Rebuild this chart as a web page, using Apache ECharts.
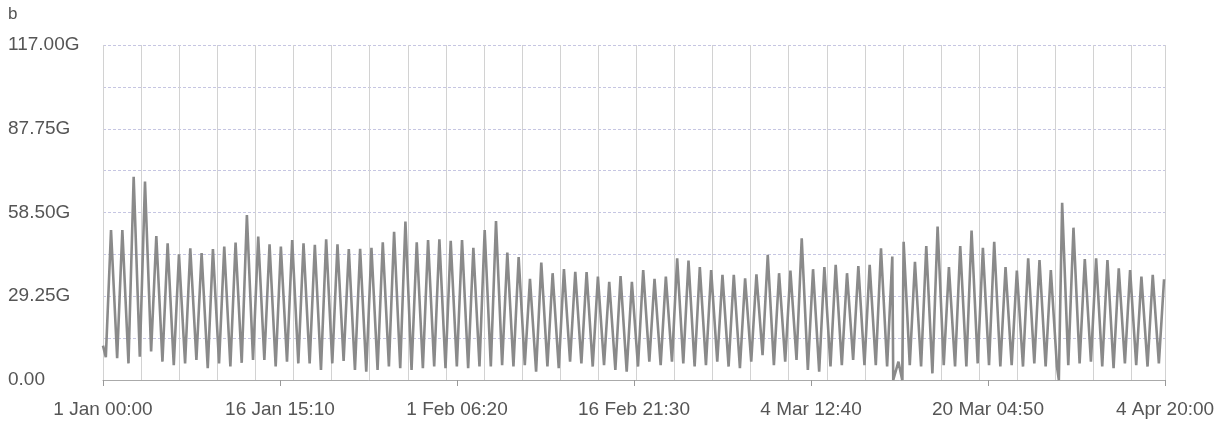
<!DOCTYPE html>
<html>
<head>
<meta charset="utf-8">
<script src="https://cdn.jsdelivr.net/npm/echarts@6/dist/echarts.min.js"></script>
<style>
html,body{margin:0;padding:0;background:#fff;}
#c{width:1228px;height:425px;}
</style>
</head>
<body>
<div id="c"></div>
<script>
// Daily peak values (G), one per day starting 1 Jan
const peaks = [52.4,52.4,71.0,69.3,50.3,47.7,43.9,46.0,44.3,45.7,
  46.6,48.0,57.6,50.1,47.4,46.6,48.9,47.7,47.2,49.1,
  47.4,45.7,45.8,46.2,48.1,51.8,55.3,48.1,48.9,49.1,
  48.6,48.9,46.2,52.4,55.5,44.5,42.9,35.3,41.0,37.3,
  38.7,37.8,37.7,36.1,34.3,36.3,34.3,38.4,35.3,36.1,
  42.5,41.7,39.4,38.4,36.7,36.7,35.5,36.9,43.7,37.3,
  38.2,49.5,38.7,39.4,40.2,37.3,39.8,40.2,46.0,43.1,
  48.3,41.3,46.8,53.6,39.4,46.8,52.2,46.2,48.3,39.4,
  38.2,42.5,41.9,38.4,61.9,53.2,42.2,42.5,41.9,39.0,
  38.4,36.1,36.7,35.2];
// Daily trough values (G), one per day
const troughs = [8.0,7.6,5.8,8.1,10.0,6.4,5.2,5.8,7.0,4.1,
  5.8,4.7,6.0,7.0,7.0,4.7,6.4,5.8,5.8,3.5,
  5.8,6.7,3.5,2.9,3.5,4.7,4.1,3.5,4.1,4.7,
  4.1,4.7,4.1,4.7,4.7,5.2,4.7,5.2,2.9,4.7,
  4.1,6.4,5.8,4.7,5.2,3.5,2.9,4.7,6.4,5.2,
  6.4,5.8,4.7,5.2,6.4,4.7,4.1,6.4,8.7,5.2,
  6.4,7.0,3.5,2.9,4.7,5.2,7.0,5.2,5.2,4.7,
  6.4,5.2,4.7,2.3,5.2,4.7,4.7,5.8,5.2,4.7,
  5.2,4.7,5.8,4.7,4.7,5.2,5.8,6.4,4.7,4.1,
  5.8,5.2,4.7,5.8];
// Short drop-outs to zero: [hours since 1 Jan 00:00, value]
const dropouts = [[1675,0],[1694,0],[2026,0]];
const startValue = 12;
const troughHour = 6;
const peakHour = 17;

const xTickLabels = ['1 Jan 00:00','16 Jan 15:10','1 Feb 06:20','16 Feb 21:30','4 Mar 12:40','20 Mar 04:50','4 Apr 20:00'];
const yTickLabels = ['0.00','','29.25G','','58.50G','','87.75G','','117.00G'];

const X_INTERVAL = 375 + 10/60;
const X_MAX = X_INTERVAL * 6;
const Y_INTERVAL = 14.625;

let pts = [[0, startValue]];
for (let d = 0; d < peaks.length; d++) {
  pts.push([d*24 + troughHour, troughs[d]]);
  pts.push([d*24 + peakHour, peaks[d]]);
}
dropouts.forEach(p => pts.push(p));
pts.sort((a,b) => a[0]-b[0]);

const chart = echarts.init(document.getElementById('c'), null, {renderer:'canvas'});
const font = 'Liberation Sans, Arial, sans-serif';
chart.setOption({
  animation: false,
  backgroundColor: '#fff',
  graphic: [{type:'text', left: 8, top: 6, style:{text:'b', fontSize:17, fill:'#555', fontFamily: font}}],
  grid: {left: 103, right: 63, top: 45, bottom: 45, containLabel: false},
  xAxis: [{
    type: 'value', min: 0, max: X_MAX, interval: X_INTERVAL,
    axisLabel: {formatter: v => xTickLabels[Math.round(v / X_INTERVAL)] || '', fontSize: 19, color: '#555', margin: 20, fontFamily: font, showMinLabel: true, showMaxLabel: true},
    axisTick: {show: true, length: 6, lineStyle: {color: '#999'}},
    axisLine: {show: true, lineStyle: {color: '#aaa'}},
    splitLine: {show: false}
  },{
    type: 'value', min: 0, max: X_MAX, interval: 80.75, position: 'bottom',
    axisLabel: {show: false}, axisTick: {show: false}, axisLine: {show: false},
    splitLine: {show: true, lineStyle: {color: '#d2d2d2', width: 1}}
  }],
  yAxis: {
    type: 'value', min: 0, max: 117, interval: Y_INTERVAL,
    axisLabel: {formatter: (v) => yTickLabels[Math.round(v / Y_INTERVAL)] || '', fontSize: 19, color: '#555', align: 'left', margin: 95, fontFamily: font},
    axisTick: {show: false}, axisLine: {show: false},
    splitLine: {show: true, lineStyle: {color: '#c6c6e2', type: [3,2], width: 1}}
  },
  series: [{
    type: 'line', xAxisIndex: 0, data: pts, showSymbol: false,
    lineStyle: {color: '#8a8a8a', width: 2.6}, z: 3
  }]
});
</script>
</body>
</html>
